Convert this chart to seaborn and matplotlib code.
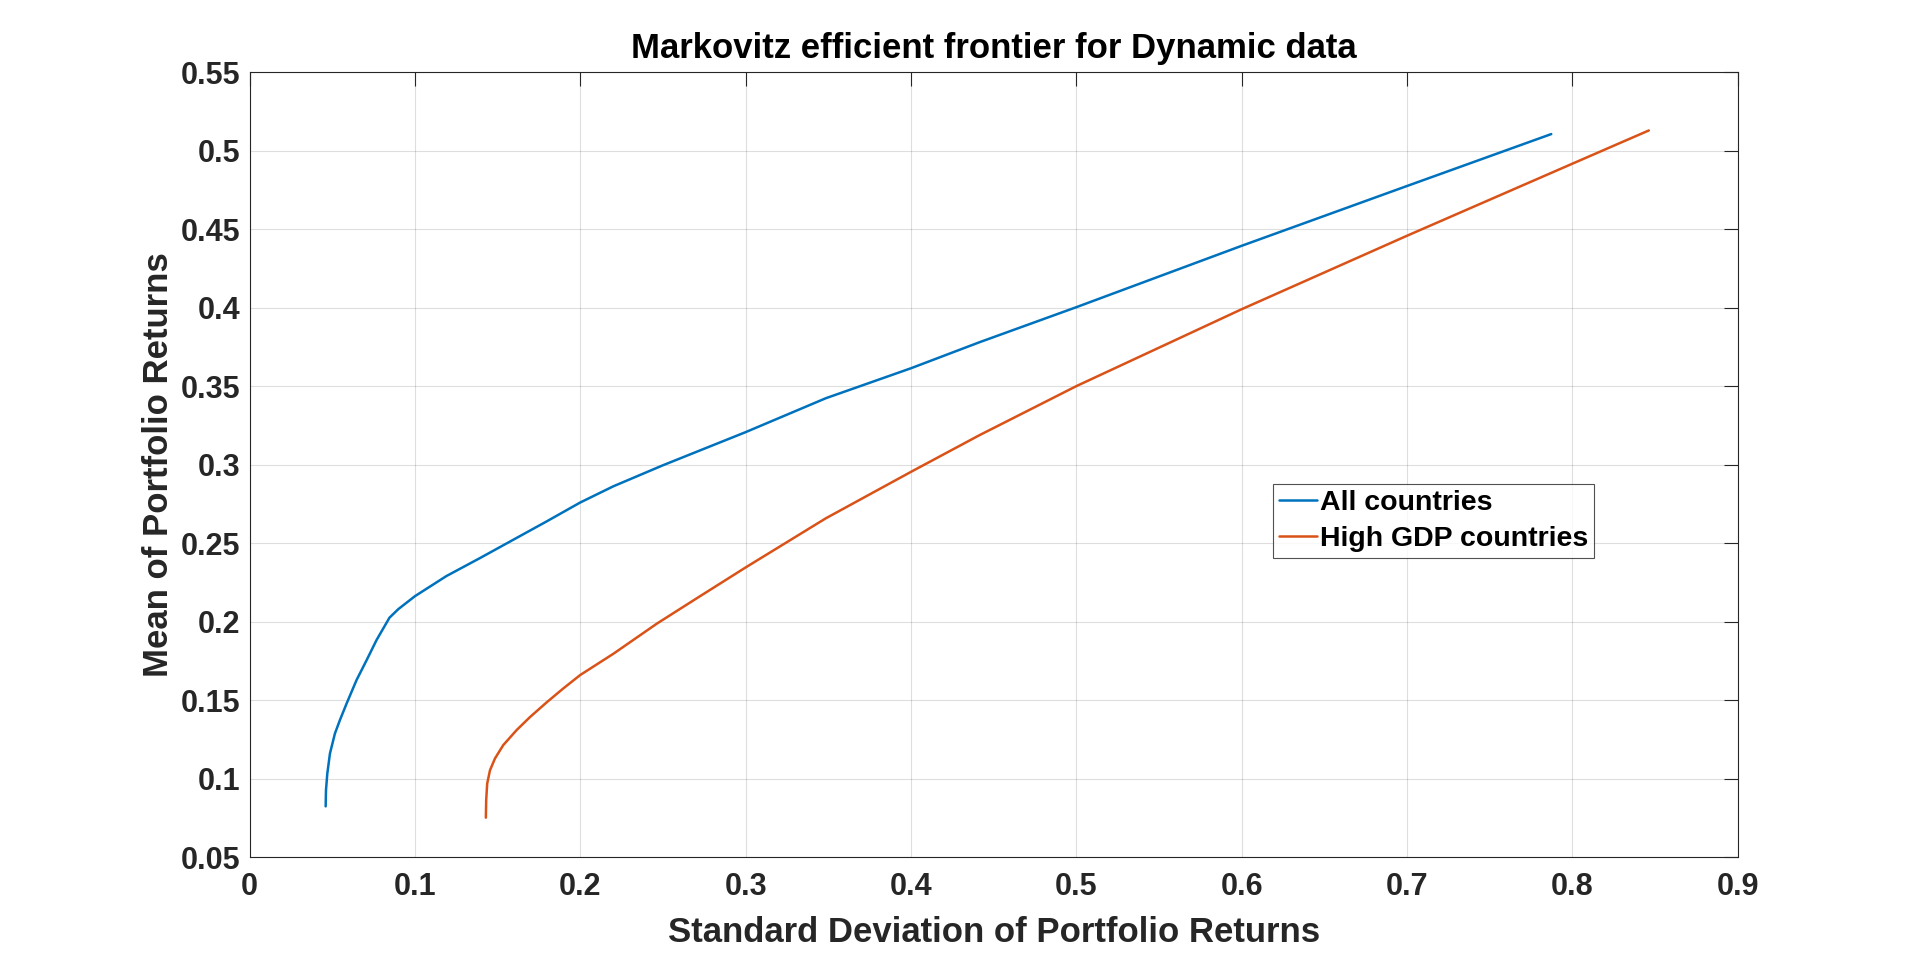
import matplotlib
matplotlib.use("Agg")
import matplotlib.pyplot as plt
import seaborn as sns
import pandas as pd

# Werte
sd_all = [0.0460, 0.0462, 0.0470, 0.0486, 0.0516, 0.0546, 0.0587, 0.0647, 0.0708,
          0.0768, 0.0829, 0.0846, 0.0900, 0.1000, 0.1190, 0.1392, 0.1594, 0.1796,
          0.2000, 0.2200, 0.2500, 0.3000, 0.3485, 0.4000, 0.4415, 0.5000,
          0.6000, 0.7000, 0.7873]
mean_all = [0.0823, 0.0926, 0.1032, 0.1160, 0.1287, 0.1372, 0.1479, 0.1628, 0.1755,
            0.1883, 0.1994, 0.2025, 0.2080, 0.2162, 0.2290, 0.2404, 0.2521, 0.2638,
            0.2759, 0.2862, 0.2996, 0.3207, 0.3423, 0.3614, 0.3780, 0.4003,
            0.4394, 0.4775, 0.5106]

sd_high = [0.1429, 0.1431, 0.1437, 0.1454, 0.1484, 0.1534, 0.1615, 0.1696, 0.1796,
           0.1897, 0.2000, 0.2200, 0.2463, 0.2705, 0.3000, 0.3485, 0.4000, 0.4415,
           0.5000, 0.6000, 0.7000, 0.8000, 0.8463]
mean_high = [0.0751, 0.0862, 0.0968, 0.1053, 0.1128, 0.1213, 0.1309, 0.1392, 0.1485,
             0.1574, 0.1660, 0.1795, 0.1987, 0.2149, 0.2345, 0.2658, 0.2954, 0.3188,
             0.3500, 0.3990, 0.4458, 0.4917, 0.5129]

series_names = ["All countries", "High GDP countries"]
farben = ["#0072BD", "#D95319"]

x_ticks = [0, 0.1, 0.2, 0.3, 0.4, 0.5, 0.6, 0.7, 0.8, 0.9]
y_ticks = [0.05, 0.1, 0.15, 0.2, 0.25, 0.3, 0.35, 0.4, 0.45, 0.5, 0.55]

df = pd.concat([
    pd.DataFrame({"sd": sd_all, "mean": mean_all, "serie": series_names[0]}),
    pd.DataFrame({"sd": sd_high, "mean": mean_high, "serie": series_names[1]}),
], ignore_index=True)

sns.set_style("white")
plt.rcParams["font.family"] = ["Liberation Sans", "DejaVu Sans"]
plt.rcParams["font.weight"] = "bold"

fig = plt.figure(figsize=(19.2, 9.63), dpi=100)
ax = fig.add_axes([0.13, 0.11, 0.775, 0.815])

sns.lineplot(data=df, x="sd", y="mean", hue="serie", palette=farben,
             sort=False, estimator=None, linewidth=1.8, ax=ax)

ax.set_xlim(0, 0.9)
ax.set_ylim(0.05, 0.55)
ax.set_xticks(x_ticks)
ax.set_yticks(y_ticks)
ax.set_xticklabels([f"{t:g}" for t in x_ticks])
ax.set_yticklabels([f"{t:g}" for t in y_ticks])

ax.grid(True, color="#262626", alpha=0.15, linewidth=0.8)
for s in ax.spines.values():
    s.set_color("#262626")
    s.set_linewidth(0.8)
    s.set_visible(True)

ax.tick_params(axis="both", direction="in", length=10, width=0.8, color="#262626",
               top=True, right=True, labelsize=22, labelcolor="#262626")
ax.tick_params(axis="x", pad=11)
ax.tick_params(axis="y", pad=7)
for lab in ax.get_xticklabels() + ax.get_yticklabels():
    lab.set_fontweight("bold")

ax.set_title("Markovitz efficient frontier for Dynamic data", fontsize=25,
             fontweight="bold", pad=10, color="black")
ax.set_xlabel("Standard Deviation of Portfolio Returns", fontsize=25,
              fontweight="bold", labelpad=10, color="#262626")
ax.set_ylabel("Mean of Portfolio Returns", fontsize=25,
              fontweight="bold", labelpad=4, color="#262626")

leg = ax.legend(loc="upper left", bbox_to_anchor=(1273 / 1920, 1 - 484 / 963),
                bbox_transform=fig.transFigure, fontsize=20.5, frameon=True,
                fancybox=False, handlelength=1.35, handletextpad=0.1,
                borderpad=0.2, labelspacing=0.36, borderaxespad=0)
leg.get_frame().set_edgecolor("#262626")
leg.get_frame().set_linewidth(0.8)
for t in leg.get_texts():
    t.set_fontweight("bold")
    t.set_color("black")

fig.savefig("out.png", dpi=100)
